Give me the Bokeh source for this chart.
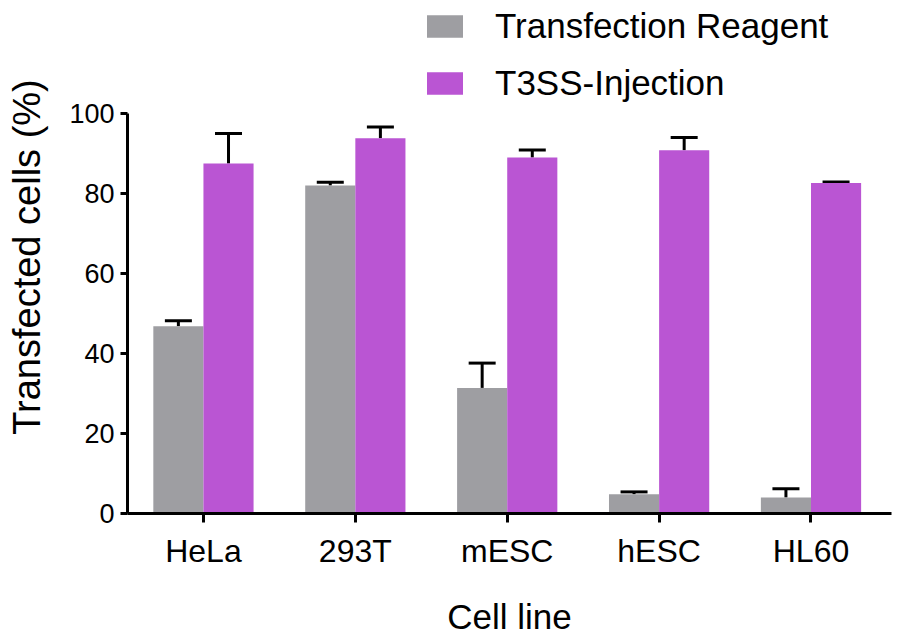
from bokeh.plotting import figure
from bokeh.models import (Range1d, FixedTicker, Whisker, TeeHead, ColumnDataSource,
                          Legend, LegendItem)
from bokeh.embed import file_html
from bokeh.resources import INLINE

cells = ["HeLa", "293T", "mESC", "hESC", "HL60"]
reagent = [46.8, 82.0, 31.4, 4.8, 4.0]
reagent_err = [1.4, 0.8, 6.2, 0.6, 2.2]
t3ss = [87.5, 93.8, 89.0, 90.8, 82.6]
t3ss_err = [7.5, 2.8, 1.9, 3.2, 0.3]
y_ticks = [0, 20, 40, 60, 80, 100]

GRAY = "#9e9ea2"
PURPLE = "#ba55d3"
FONT = "Liberation Sans"
BW = 0.33

idx = list(range(len(cells)))
src_r = ColumnDataSource(dict(
    x=[i - BW / 2 for i in idx], top=reagent,
    upper=[v + e for v, e in zip(reagent, reagent_err)]))
src_t = ColumnDataSource(dict(
    x=[i + BW / 2 for i in idx], top=t3ss,
    upper=[v + e for v, e in zip(t3ss, t3ss_err)]))

p = figure(width=893, height=638, output_backend="svg", toolbar_location=None,
           x_range=Range1d(-0.50, 4.53), y_range=Range1d(0, 128.25),
           min_border_left=127, min_border_top=0, min_border_right=2,
           min_border_bottom=120)
p.outline_line_color = None
p.grid.visible = False

for src in (src_r, src_t):
    w = Whisker(source=src, base="x", lower="top", upper="upper",
                line_width=3, line_color="black",
                upper_head=TeeHead(size=27, line_width=3, line_color="black"),
                lower_head=None, level="underlay")
    p.add_layout(w)

r1 = p.vbar(x="x", top="top", width=BW, source=src_r, fill_color=GRAY, line_color=None)
r2 = p.vbar(x="x", top="top", width=BW, source=src_t, fill_color=PURPLE, line_color=None)

# axes
p.xaxis.ticker = FixedTicker(ticks=idx)
p.xaxis.major_label_overrides = {i: c for i, c in zip(idx, cells)}
p.yaxis.ticker = FixedTicker(ticks=y_ticks)
p.yaxis.bounds = (0, 100)
for ax in (p.xaxis[0], p.yaxis[0]):
    ax.axis_line_width = 3
    ax.major_tick_line_width = 3
    ax.major_tick_in = 0
    ax.minor_tick_line_color = None
    ax.axis_label_text_font = FONT
    ax.axis_label_text_font_style = "normal"
    ax.axis_label_text_color = "black"
    ax.major_label_text_font = FONT
    ax.major_label_text_color = "black"

p.xaxis.major_tick_out = 9
p.xaxis.major_label_standoff = 10
p.xaxis.major_label_text_font_size = "32px"
p.xaxis.axis_label = "Cell line"
p.xaxis.axis_label_text_font_size = "35px"
p.xaxis.axis_label_standoff = 25

p.yaxis.major_tick_out = 7
p.yaxis.major_label_standoff = 6
p.yaxis.major_label_text_font_size = "27px"
p.yaxis.axis_label = "Transfected cells (%)"
p.yaxis.axis_label_text_font_size = "38px"
p.yaxis.axis_label_standoff = 18

legend = Legend(items=[LegendItem(label="Transfection Reagent", renderers=[r1]),
                       LegendItem(label="T3SS-Injection", renderers=[r2])],
                location=(295, 410), orientation="vertical",
                glyph_width=45, glyph_height=28, label_standoff=28,
                label_text_font=FONT, label_text_font_size="35px",
                label_text_color="black",
                spacing=17, padding=0, margin=0,
                border_line_color=None, background_fill_alpha=0)
p.add_layout(legend, "center")

open("out.html", "w").write(file_html(p, INLINE))
